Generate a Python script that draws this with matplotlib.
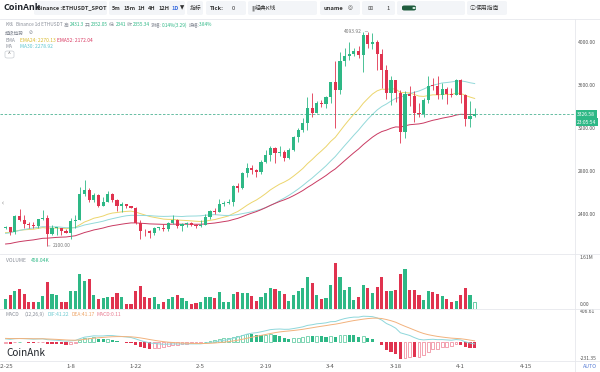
import numpy as np
import pandas as pd
import matplotlib
matplotlib.use("Agg")
import matplotlib.pyplot as plt
from matplotlib.lines import Line2D
from matplotlib.patches import FancyBboxPatch, Circle
from matplotlib.transforms import blended_transform_factory

plt.rcParams['font.family'] = ['Noto Sans CJK SC', 'DejaVu Sans']

# ---- data: Binance ETHUSDT daily candles from 2023-12-25 ----
start = "2023-12-25"
first_open = 2265.0
closes = [2272, 2230, 2378, 2344, 2300, 2292, 2281, 2352.05, 2355.34, 2209,
          2268, 2269, 2240, 2221, 2331, 2343, 2584, 2617, 2523, 2576,
          2472, 2511, 2587, 2529, 2467, 2490, 2470, 2453, 2313, 2242,
          2235, 2219, 2266, 2268, 2256, 2317, 2343, 2282, 2304, 2309,
          2297, 2290, 2299, 2372, 2425, 2420, 2486, 2500, 2507, 2660,
          2641, 2777, 2823, 2803, 2786, 2880, 2945, 3015, 2966, 2972,
          2922, 2991, 3112, 3179, 3242, 3384, 3340, 3433, 3420, 3487,
          3627, 3553, 3818, 3868, 3884, 3910, 3880, 4066, 3980, 3999,
          3881, 3741, 3523, 3644, 3519, 3159, 3515, 3492, 3334, 3329,
          3454, 3590, 3587, 3500, 3561, 3509, 3505, 3647, 3504, 3278,
          3311, 3326.58]
highs = [2290, 2279, 2392, 2445, 2386, 2322, 2322, 2352.5, 2431.3, 2385,
         2295, 2277, 2270, 2260, 2360, 2390, 2645, 2717, 2640, 2590,
         2580, 2555, 2612, 2590, 2540, 2510, 2490, 2475, 2460, 2345,
         2260, 2245, 2278, 2276, 2300, 2320, 2390, 2350, 2310, 2320,
         2325, 2300, 2338, 2400, 2430, 2450, 2538, 2521, 2535, 2668,
         2685, 2785, 2867, 2855, 2815, 2895, 2989, 3033, 3016, 3034,
         2988, 3012, 3125, 3200, 3288, 3487, 3523, 3450, 3454, 3495,
         3628, 3822, 3902, 3942, 3996, 3945, 3963, 4086, 4093.92, 4083,
         4012, 3935, 3780, 3679, 3645, 3550, 3545, 3590, 3543, 3430,
         3475, 3677, 3665, 3680, 3612, 3582, 3567, 3655, 3650, 3510,
         3446, 3380]
lows = [2255, 2202, 2213, 2336, 2265, 2270, 2266, 2266, 2341, 2100,
        2206, 2206, 2200, 2217, 2165, 2270, 2337, 2560, 2510, 2507,
        2465, 2472, 2505, 2510, 2426, 2415, 2457, 2450, 2300, 2167,
        2195, 2170, 2200, 2250, 2236, 2241, 2300, 2270, 2242, 2280,
        2290, 2270, 2280, 2294, 2350, 2400, 2413, 2473, 2490, 2473,
        2600, 2630, 2745, 2768, 2742, 2773, 2870, 2890, 2869, 2935,
        2894, 2911, 2980, 3070, 3160, 3175, 3301, 3340, 3393, 3383,
        3427, 3200, 3516, 3770, 3832, 3868, 3852, 3721, 3937, 3935,
        3735, 3570, 3465, 3412, 3435, 3056, 3100, 3400, 3250, 3300,
        3304, 3427, 3550, 3470, 3468, 3423, 3485, 3505, 3426, 3212,
        3209, 3300]
volumes_k = [336, 488, 627, 684, 534, 256, 256, 256, 458.04, 939,
             534, 476, 232, 256, 627, 637, 1218, 986, 1032, 488,
             359, 371, 429, 429, 545, 429, 163, 163, 615, 812,
             429, 395, 429, 174, 232, 348, 429, 476, 395, 278,
             163, 197, 256, 429, 429, 395, 580, 232, 256, 534,
             591, 568, 556, 441, 290, 429, 545, 719, 684, 637,
             510, 290, 488, 637, 719, 1101, 893, 488, 336, 395,
             835, 1610, 1125, 661, 754, 313, 429, 835, 730, 568,
             754, 1101, 637, 637, 661, 1218, 1391, 661, 661, 488,
             313, 637, 580, 510, 464, 336, 256, 278, 488, 719,
             488, 256]
# closes 2023-11-26 .. 2023-12-24, only for the MA30 warm-up
prior_closes = [2063, 2027, 2048, 2028, 2052, 2088, 2165, 2193, 2242, 2293,
                2233, 2358, 2359, 2341, 2352, 2225, 2203, 2260, 2315, 2220,
                2228, 2196, 2218, 2177, 2202, 2239, 2326, 2312, 2266]
# indicator values on 2023-12-24
seed_ema24, seed_ema52 = 2220.0, 2112.0
seed_ema12, seed_ema26, seed_dea = 2255.0, 2213.0, 47.5

date_ticks = ["2023-12-25", "2024-01-08", "2024-01-22", "2024-02-05", "2024-02-19",
              "2024-03-04", "2024-03-18", "2024-04-01", "2024-04-15"]
price_ticks = [2400, 2800, 3200, 3600, 4000]
macd_range = (-231.35, 406.61)
hover = 8
countdown = "23:05:54"

# ---- indicators ----
c = np.array(closes, dtype=float)
h = np.array(highs, dtype=float)
l = np.array(lows, dtype=float)
o = np.r_[first_open, c[:-1]]
vol = np.array(volumes_k, dtype=float)
x = np.arange(len(c))


def ema(values, n, seed):
    a = 2 / (n + 1)
    out, e = [], seed
    for v in values:
        e = a * v + (1 - a) * e
        out.append(e)
    return np.array(out)


ema24 = ema(c, 24, seed_ema24)
ema52 = ema(c, 52, seed_ema52)
ma30 = pd.Series(np.r_[prior_closes, c]).rolling(30).mean().to_numpy()[len(prior_closes):]
dif = ema(c, 12, seed_ema12) - ema(c, 26, seed_ema26)
dea = ema(dif, 9, seed_dea)
hist = 2 * (dif - dea)

# ---- figure ----
W, H = 600, 372
GREEN = '#2eb886'
RED = '#e0334f'
GREY = '#8a8f99'
SYM = ['DejaVu Sans', 'Noto Sans CJK SC']

fig = plt.figure(figsize=(W / 100, H / 100), dpi=100, facecolor='white')


def rect(x0, y0, x1, y1):
    return [x0 / W, 1 - y1 / H, (x1 - x0) / W, (y1 - y0) / H]


ax = fig.add_axes(rect(0, 19, 575, 254))
axv = fig.add_axes(rect(0, 254, 575, 309), sharex=ax)
axm = fig.add_axes(rect(0, 309, 575, 361), sharex=ax)
for a in (ax, axv, axm):
    for s in a.spines.values():
        s.set_visible(False)
    a.yaxis.tick_right()
    a.tick_params(axis='y', length=0, pad=2, labelsize=3.6, labelcolor='#555')
for a in (ax, axv):
    a.tick_params(axis='x', bottom=False, labelbottom=False)

# candles
up = c >= o
colors = np.where(up, GREEN, RED)
ax.vlines(x, l, h, colors=colors, lw=0.6, zorder=2)
ax.bar(x, np.maximum(np.abs(c - o), 8), bottom=np.minimum(o, c), width=0.68,
       color=colors, lw=0, zorder=3)
ax.plot(x, ema24, color='#ecd56c', lw=0.7, zorder=1)
ax.plot(x, ma30, color='#93d9da', lw=0.7, zorder=1)
ax.plot(x, ema52, color='#c93a62', lw=0.7, zorder=1)
ax.axhline(c[-1], color='#4fb394', lw=0.6, ls=(0, (3, 2)), zorder=1)

imax, imin = int(np.argmax(h)), int(np.argmin(l))
ax.annotate(f"{h[imax]:.2f}", xy=(imax, h[imax]), xytext=(-4, 0), textcoords='offset points',
            ha='right', va='center', fontsize=3.5, color='#777',
            arrowprops=dict(arrowstyle='-', color='#999', lw=0.4, shrinkA=0, shrinkB=0))
ax.annotate(f"{l[imin]:.2f}", xy=(imin, l[imin]), xytext=(4, 0), textcoords='offset points',
            ha='left', va='center', fontsize=3.5, color='#777',
            arrowprops=dict(arrowstyle='-', color='#999', lw=0.4, shrinkA=0, shrinkB=0))

ax.set_xlim(-1.2, 122.6)
ax.set_ylim(2025, 4211)
ax.set_yticks(price_ticks)
ax.set_yticklabels([f"{p:.2f}" for p in price_ticks])

tr = blended_transform_factory(ax.transAxes, ax.transData)
ax.text(1.004, c[-1], f"{c[-1]:.2f}", transform=tr, ha='left', va='center', fontsize=3.6,
        color='white', bbox=dict(boxstyle='square,pad=0.3', fc=GREEN, ec='none'), zorder=5)
ax.annotate(countdown, xy=(1.004, c[-1]), xycoords=tr, xytext=(0, -6), textcoords='offset points',
            ha='left', va='center', fontsize=3.6, color='white',
            bbox=dict(boxstyle='square,pad=0.3', fc=GREEN, ec='none'), zorder=5,
            annotation_clip=False)

# volume (pane top leaves room above the largest bar)
axv.bar(x[:-1], vol[:-1], width=0.68, color=colors[:-1], lw=0)
axv.bar(x[-1:], vol[-1:], width=0.6, facecolor='white', edgecolor=colors[-1], lw=0.5)
axv.set_ylim(0, vol.max() * 1.19)
axv.set_yticks([])
axv.text(1.008, 0.99, f"{vol.max() / 1000:.2f}M", transform=axv.transAxes, ha='left', va='top',
         fontsize=3.6, color='#555')
axv.text(1.008, 0.03, "0.00", transform=axv.transAxes, ha='left', va='bottom',
         fontsize=3.6, color='#555')

# macd
prev = np.r_[hist[0], hist[:-1]]
solid = hist < prev
hcol = np.where(hist >= 0, GREEN, RED)
hedge = np.where(hist >= 0, '#4cc597', '#ef7d91')
axm.bar(x[solid], hist[solid], width=0.68, color=hcol[solid], lw=0)
axm.bar(x[~solid], hist[~solid], width=0.6, facecolor='white', edgecolor=hedge[~solid], lw=0.5)
axm.plot(x, dif, color='#8ed7db', lw=0.7)
axm.plot(x, dea, color='#f2b27d', lw=0.7)
axm.set_ylim(*macd_range)
axm.set_yticks([])
axm.text(1.008, 1.0, f"{macd_range[1]:.2f}", transform=axm.transAxes, ha='left', va='top',
         fontsize=3.6, color='#555')
axm.text(1.008, 0.0, f"{macd_range[0]:.2f}", transform=axm.transAxes, ha='left', va='bottom',
         fontsize=3.6, color='#555')

tick_days = (pd.to_datetime(date_ticks) - pd.Timestamp(start)).days
axm.set_xticks(tick_days)
axm.set_xticklabels([f"{d.month}-{d.day}" for d in pd.to_datetime(date_ticks)])
axm.tick_params(axis='x', length=0, pad=2.5, labelsize=4.3, labelcolor='#555')

# separators
for yy in (19, 254, 309, 361):
    fig.add_artist(Line2D([0, 1], [1 - yy / H] * 2, color='#e6e8ec', lw=0.6))
fig.add_artist(Line2D([575 / W] * 2, [0, 1 - 19 / H], color='#e6e8ec', lw=0.6))


def fbox(x0, y0, x1, y1, fc='#f3f5f8', ec='none', lw=0.5):
    p = FancyBboxPatch((x0 / W, 1 - y1 / H), (x1 - x0) / W, (y1 - y0) / H,
                       boxstyle="round,pad=0,rounding_size=0.004", transform=fig.transFigure,
                       fc=fc, ec=ec, lw=lw)
    fig.patches.append(p)


def ftext(xp, yp, s, **kw):
    kw.setdefault('va', 'center')
    kw.setdefault('ha', 'left')
    return fig.text(xp / W, 1 - yp / H, s, **kw)


renderer = fig.canvas.get_renderer()


def chain(xp, yp, parts, size=3.4, **kw):
    for part in parts:
        s, col, gap = part[:3]
        extra = dict(kw)
        if len(part) > 3:
            extra['family'] = part[3]
        t = ftext(xp, yp, s, fontsize=size, color=col, **extra)
        xp += t.get_window_extent(renderer).width + gap


# toolbar
ftext(3, 8, "CoinAnk", fontsize=6.5, fontweight='bold', color='#1f2329')
fbox(34, 1, 107, 15)
ftext(37, 8, "Binance :ETHUSDT_SPOT", fontsize=4.0, fontweight='bold', color='#333')
fbox(109, 1, 185, 15)
chain(112, 8, [("5m", '#333', 2.5), ("15m", '#333', 2.5), ("1H", '#333', 2.5), ("4H", '#333', 2.5),
               ("12H", '#333', 2.5), ("1D", '#3d6fe0', 0.8), ("▼", '#333', 0, SYM)],
      size=4.0, fontweight='bold')
fbox(187, 1, 203, 15)
ftext(190, 8, "指标", fontsize=4.2, color='#333')
fbox(206, 1, 246, 15)
ftext(210, 8, "Tick:", fontsize=4.2, fontweight='bold', color='#333')
ftext(232, 8, "0", fontsize=4.2, color='#333')
fbox(248, 1, 317, 15)
ftext(251, 8, "‖", fontsize=4.2, color='#333', family=SYM)
ftext(255, 8, "经典K线", fontsize=4.2, color='#333')
fbox(320, 1, 360, 15)
ftext(324, 8, "uname", fontsize=4.2, fontweight='bold', color='#333')
ftext(348, 8, "◎", fontsize=4, color='#555', family=SYM)
fbox(362, 1, 395, 15)
ftext(367, 8, "⊞", fontsize=4.5, color='#555', family=SYM)
ftext(386, 8, "1", fontsize=4.2, color='#333')
fbox(397, 1, 465, 15)
fbox(402, 5.5, 416, 10.5, fc='#1f5c3e')
fig.patches.append(Circle((414 / W, 1 - 8 / H), 1.6 / W, transform=fig.transFigure, fc='#d9f2e6', ec='none'))
fbox(467, 1, 507, 15)
ftext(470, 8, "ⓘ", fontsize=4.2, color='#333', family=['Noto Sans CJK SC', 'DejaVu Sans'])
ftext(476, 8, "使用指南", fontsize=4.2, color='#333')

# header readings
ho, hh, hl, hc = o[hover], h[hover], l[hover], c[hover]
chain(5, 25, [("K线", GREY, 3), ("Binance 1d ETHUSDT", GREY, 1.2),
              ("高:", GREY, 0), (f"{hh:g}", GREEN, 1.2),
              ("开:", GREY, 0), (f"{ho:g}", GREEN, 1.2),
              ("低:", GREY, 0), (f"{hl:g}", GREEN, 1.2),
              ("收:", GREY, 0), (f"{hc:g}", GREEN, 1.2),
              ("涨幅:", GREY, 0), (f"{(hc - ho) / ho * 100:.2f}%({hc - ho:.2f})", GREEN, 1.2),
              ("振幅:", GREY, 0), (f"{(hh - hl) / ho * 100:.2f}%", GREEN, 0)])
chain(5, 32.7, [("超级趋势", GREY, 5), ("⊘", GREY, 0, SYM)])
chain(5, 40, [("EMA", GREY, 5), ("EMA24: 2270.13", '#d9b92c', 1.5), ("EMA52: 2172.04", '#d8365f', 0)],
      size=3.5)
chain(5, 46.7, [("MA", GREY, 8), ("MA30: 2278.92", '#5cc5cf', 0)], size=3.5)
fbox(5, 51, 14, 58, fc='white', ec='#c8ccd2')
ftext(9.5, 55, "^", fontsize=3.6, color='#555', ha='center')

chain(6, 261, [("VOLUME", GREY, 5), (f"{vol[hover]:.2f}K", GREEN, 0)], size=3.6)
chain(6, 314, [("MACD", GREY, 5), ("(12,26,9)", GREY, 2.5), ("DIF:41.22", '#6ccad0', 2.5),
               ("DEA:41.17", '#eea465', 2.5), ("MACD:0.11", '#e87a8f', 0)], size=3.6)

ftext(6, 353, "CoinAnk", fontsize=7.2, color='#1f2329', fontweight='medium')
ftext(590, 366, "AUTO", fontsize=3.8, color='#5a7fd6', ha='center')
ftext(3, 203, "‹", fontsize=5, color='#777', ha='center')

fig.savefig("out.png", dpi=100)
